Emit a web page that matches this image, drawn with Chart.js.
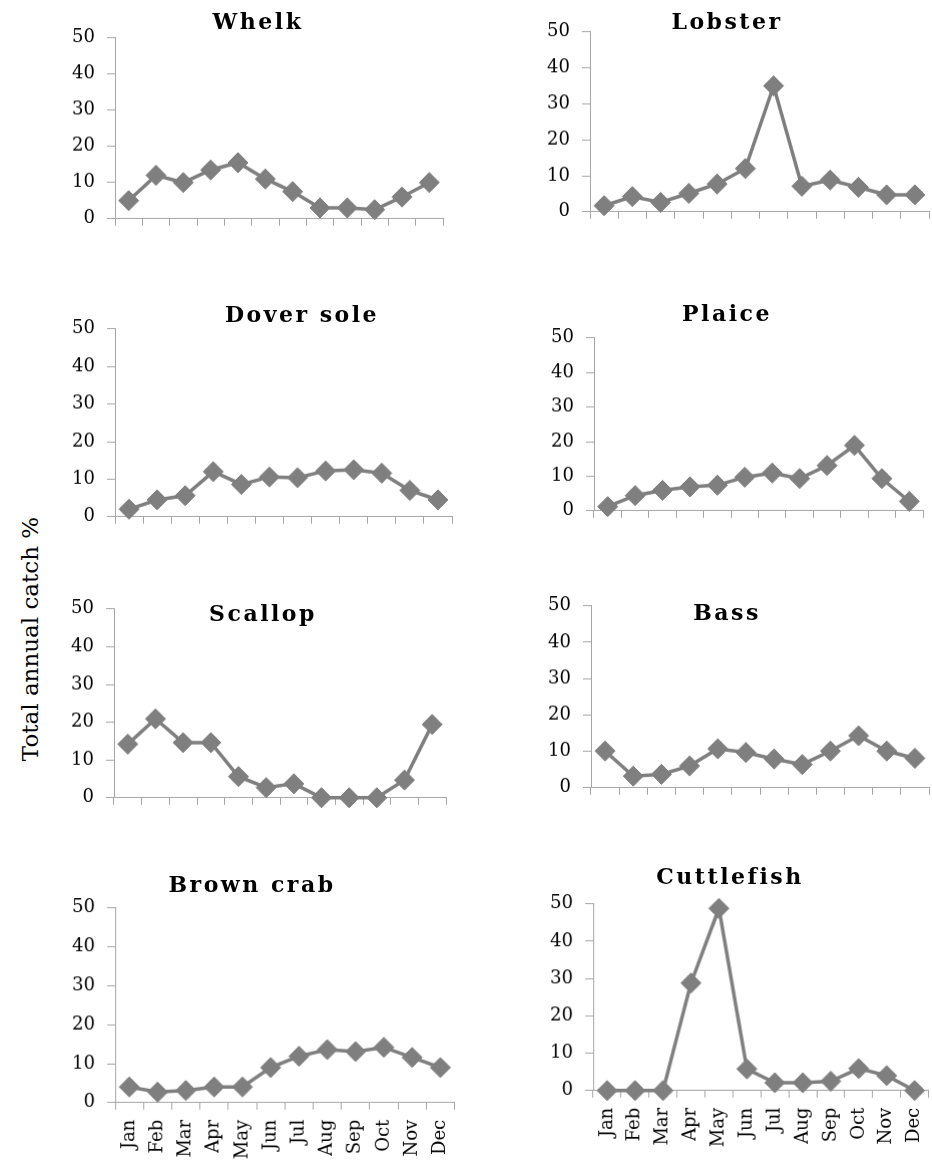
<!DOCTYPE html>
<html>
<head>
<meta charset="utf-8">
<script src="https://cdn.jsdelivr.net/npm/chart.js@4.4.1/dist/chart.umd.min.js"></script>
<style>
  html, body { margin: 0; padding: 0; background: #fff; overflow: hidden; }
  body { width: 932px; height: 1162px; position: relative; font-family: 'DejaVu Serif', serif; }
  .panel { position: absolute; }
  .title {
    position: absolute; transform: translate(-50%, -50%);
    font: bold 22px 'DejaVu Serif', serif; letter-spacing: 2.5px;
    color: #000; white-space: nowrap;
  }
  #ytitle {
    position: absolute; left: 30px; top: 639px;
    transform: translate(-50%, -50%) rotate(-90deg);
    font: 23px 'DejaVu Serif', serif; color: #000; white-space: nowrap;
  }
</style>
</head>
<body>
<div id="ytitle">Total annual catch %</div>
<script>
// 数据
const months = ['Jan', 'Feb', 'Mar', 'Apr', 'May', 'Jun', 'Jul', 'Aug', 'Sep', 'Oct', 'Nov', 'Dec'];
const yTicks = [0, 10, 20, 30, 40, 50];
const species = ['Whelk', 'Lobster', 'Dover sole', 'Plaice', 'Scallop', 'Bass', 'Brown crab', 'Cuttlefish'];

const whelk      = [5, 12, 10, 13.5, 15.5, 11, 7.5, 3, 3, 2.5, 6, 10];
const lobster    = [1.7, 4.2, 2.6, 5.1, 7.7, 12, 35, 7.1, 8.8, 6.8, 4.7, 4.7];
const doverSole  = [2, 4.5, 5.6, 12, 8.6, 10.6, 10.4, 12.2, 12.5, 11.6, 7, 4.5];
const plaice     = [1.2, 4.4, 5.9, 6.9, 7.4, 9.7, 10.9, 9.3, 13.1, 18.9, 9.3, 2.7];
const scallop    = [14.2, 20.9, 14.6, 14.6, 5.6, 2.7, 3.7, 0, 0, 0, 4.7, 19.4];
const bass       = [10.1, 3.2, 3.7, 6, 10.7, 9.7, 7.9, 6.4, 10.1, 14.3, 10.1, 8.1];
const brownCrab  = [4, 2.7, 3.1, 4, 4, 9, 11.9, 13.6, 13.1, 14.2, 11.6, 9];
const cuttlefish = [0, 0, 0, 28.8, 48.8, 5.8, 2.1, 2.1, 2.5, 5.9, 4, 0];

const seriesList = [whelk, lobster, doverSole, plaice, scallop, bass, brownCrab, cuttlefish];

// 每个小图的位置：y轴x坐标、50的y、0的y、右端x、标题中心
const layout = [
  { ax: 115, top: 38,  zero: 218,  right: 443, tx: 258, ty: 21,  labels: false },
  { ax: 590, top: 32,  zero: 211,  right: 929, tx: 727, ty: 21,  labels: false },
  { ax: 115, top: 329, zero: 516,  right: 452, tx: 302, ty: 314, labels: false },
  { ax: 594, top: 338, zero: 510,  right: 923, tx: 727, ty: 313, labels: false },
  { ax: 114, top: 609, zero: 797,  right: 446, tx: 263, ty: 613, labels: false },
  { ax: 591, top: 606, zero: 787,  right: 929, tx: 727, ty: 612, labels: false },
  { ax: 115, top: 908, zero: 1102, right: 453, tx: 252, ty: 884, labels: true },
  { ax: 593, top: 904, zero: 1090, right: 927, tx: 730, ty: 876, labels: true }
];

const Y_W = 60, PAD_T = 14, PAD_R = 6;
const grey = '#7f7f7f';
const axisGrey = '#a6a6a6';

Chart.defaults.font.family = "'DejaVu Serif', serif";
Chart.defaults.color = '#000';

species.forEach((name, i) => {
  const L = layout[i];
  const xH = L.labels ? 70 : 14;
  const box = document.createElement('div');
  box.className = 'panel';
  let bw = Y_W + (L.right - L.ax) + PAD_R;
  let bh = PAD_T + (L.zero - L.top) + xH;
  box.style.left = (L.ax - Y_W) + 'px';
  box.style.top = (L.top - PAD_T) + 'px';
  box.style.width = bw + 'px';
  box.style.height = bh + 'px';
  const canvas = document.createElement('canvas');
  box.appendChild(canvas);
  document.body.appendChild(box);

  const t = document.createElement('div');
  t.className = 'title';
  t.textContent = name;
  t.style.left = L.tx + 'px';
  t.style.top = L.ty + 'px';
  document.body.appendChild(t);

  const chart = new Chart(canvas.getContext('2d'), {
    type: 'line',
    data: {
      labels: months,
      datasets: [{
        label: name,
        data: seriesList[i],
        borderColor: grey,
        backgroundColor: grey,
        borderWidth: 3.5,
        tension: 0,
        pointStyle: 'rectRot',
        pointRadius: 10,
        pointBorderWidth: 1,
        pointBackgroundColor: grey,
        pointBorderColor: grey,
        clip: false
      }]
    },
    options: {
      responsive: true,
      maintainAspectRatio: false,
      animation: false,
      layout: { padding: { top: PAD_T, right: PAD_R, left: 0, bottom: 0 } },
      plugins: { legend: { display: false }, tooltip: { enabled: false } },
      scales: {
        x: {
          offset: true,
          grid: { offset: true, drawOnChartArea: false, tickLength: 7, color: axisGrey },
          border: { color: axisGrey, width: 1 },
          ticks: {
            display: L.labels,
            autoSkip: false,
            minRotation: 90,
            maxRotation: 90,
            padding: 10,
            font: { size: 18 },
            color: '#000'
          },
          afterFit: s => { s.height = xH; }
        },
        y: {
          min: 0,
          max: 50,
          grid: { drawOnChartArea: false, tickLength: 8, color: axisGrey },
          border: { color: axisGrey, width: 1 },
          afterBuildTicks: s => { s.ticks = yTicks.map(v => ({ value: v })); },
          ticks: { padding: 12, font: { size: 18 }, color: '#000' },
          afterFit: s => { s.width = Y_W; }
        }
      }
    }
  });

  // 调整容器大小，让绘图区正好落在目标位置
  let ca = chart.chartArea;
  bw += (L.right - L.ax) - (ca.right - ca.left);
  bh += (L.zero - L.top) - (ca.bottom - ca.top);
  box.style.width = bw + 'px';
  box.style.height = bh + 'px';
  chart.resize(bw, bh);
  ca = chart.chartArea;
  box.style.left = (L.ax - ca.left) + 'px';
  box.style.top = (L.top - ca.top) + 'px';
});
</script>
</body>
</html>
